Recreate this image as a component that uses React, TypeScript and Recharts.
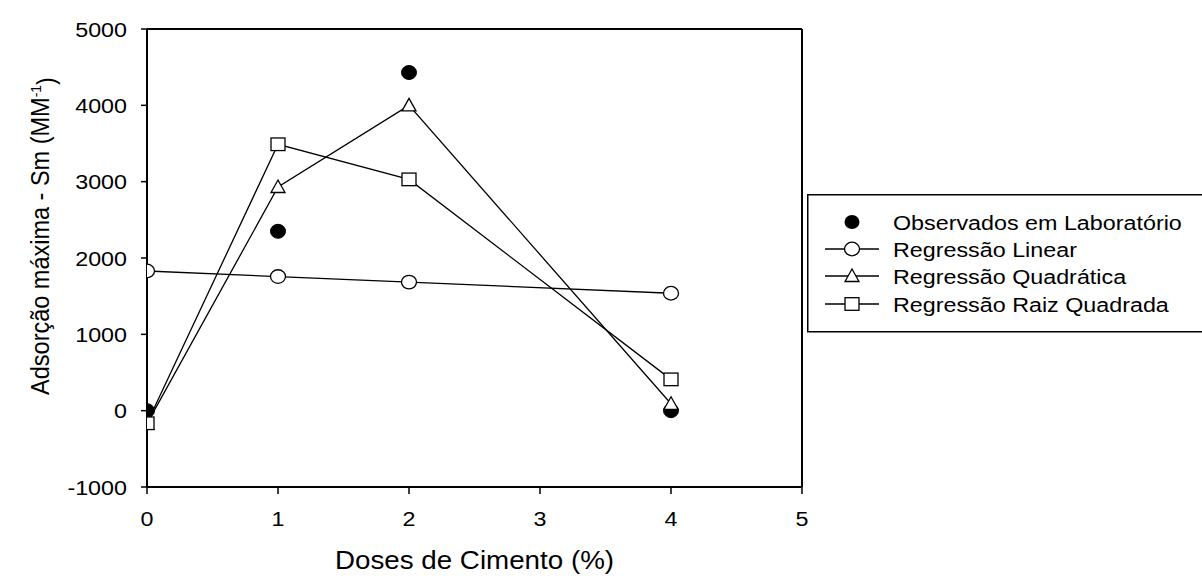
import React from 'react';
import { ComposedChart, Line, XAxis, YAxis, ReferenceLine, Label } from 'recharts';

const doses = [0, 1, 2, 4];
const observados = [0, 2350, 4430, 0];
const regLinear = [1830, 1757, 1684, 1538];
const regQuadratica = [-170, 2930, 4000, 90];
const regRaiz = [-165, 3490, 3030, 410];
const xTicks = [0, 1, 2, 3, 4, 5];
const yTicks = [-1000, 0, 1000, 2000, 3000, 4000, 5000];
const seriesNames = ['Observados em Laboratório', 'Regressão Linear', 'Regressão Quadrática', 'Regressão Raiz Quadrada'];

const data = doses.map((d, i) => ({
  x: d,
  obs: observados[i],
  lin: regLinear[i],
  quad: regQuadratica[i],
  raiz: regRaiz[i],
}));

const FONT = '"Liberation Sans", Arial, sans-serif';
const SW = 1.3;
const SX = 1.11;
const TICK_FS = 21;
const TITLE_FS = 25;
const YTITLE_FS = 23.5;

const FilledCircle = (p: any) => (
  <ellipse key={'f' + p.index} cx={p.cx} cy={p.cy} rx={7.5} ry={7} fill="#000" stroke="#000" strokeWidth={1} />
);
const OpenCircle = (p: any) => (
  <ellipse key={'o' + p.index} cx={p.cx} cy={p.cy} rx={7.5} ry={6.8} fill="#fff" stroke="#000" strokeWidth={SW} />
);
const Triangle = (p: any) => (
  <path key={'t' + p.index} d={`M${p.cx},${p.cy - 7} L${p.cx + 7},${p.cy + 5.5} L${p.cx - 7},${p.cy + 5.5} Z`} fill="#fff" stroke="#000" strokeWidth={SW} />
);
const Square = (p: any) => (
  <rect key={'s' + p.index} x={p.cx - 7} y={p.cy - 6.3} width={14} height={12.6} fill="#fff" stroke="#000" strokeWidth={SW} />
);

const XTick = (p: any) => (
  <text transform={`translate(${p.x} ${p.y}) scale(${SX} 1)`} textAnchor="middle" dy="0.71em" fontSize={TICK_FS} fontFamily={FONT} fill="#000">
    {p.payload.value}
  </text>
);
const YTick = (p: any) => (
  <text transform={`translate(${p.x} ${p.y}) scale(${SX} 1)`} textAnchor="end" dy="0.36em" fontSize={TICK_FS} fontFamily={FONT} fill="#000">
    {p.payload.value}
  </text>
);

const LegendBox = () => {
  const rows = [222, 249, 276, 304].map((y) => y - 194);
  const mx = 852 - 807;
  return (
    <svg width={400} height={140} style={{ position: 'absolute', left: 807, top: 194, overflow: 'visible' }}>
      <rect x={0.75} y={0.75} width={420} height={137} fill="#fff" stroke="#000" strokeWidth={1.5} />
      <ellipse cx={mx} cy={rows[0]} rx={7.5} ry={7} fill="#000" />
      {[1, 2, 3].map((i) => (
        <line key={'l' + i} x1={mx - 27} x2={mx + 27} y1={rows[i]} y2={rows[i]} stroke="#000" strokeWidth={SW} />
      ))}
      <ellipse cx={mx} cy={rows[1]} rx={7.5} ry={6.8} fill="#fff" stroke="#000" strokeWidth={SW} />
      <path d={`M${mx},${rows[2] - 7} L${mx + 7},${rows[2] + 5.5} L${mx - 7},${rows[2] + 5.5} Z`} fill="#fff" stroke="#000" strokeWidth={SW} />
      <rect x={mx - 7} y={rows[3] - 6.3} width={14} height={12.6} fill="#fff" stroke="#000" strokeWidth={SW} />
      {seriesNames.map((n, i) => (
        <text key={n} transform={`translate(${893 - 807} ${rows[i]}) scale(${SX} 1)`} dy="0.36em" fontSize={TICK_FS} fontFamily={FONT} fill="#000">{n}</text>
      ))}
    </svg>
  );
};

export default function App() {
  return (
    <div style={{ position: 'absolute', left: 0, top: 0, width: 1202, height: 576, background: '#fff', overflow: 'hidden' }}>
      <ComposedChart width={1202} height={576} data={data} margin={{ top: 29, right: 400, bottom: 0, left: 0 }}>
        <XAxis
          dataKey="x"
          type="number"
          domain={[0, 5]}
          ticks={xTicks}
          allowDataOverflow
          height={89}
          axisLine={{ stroke: '#000', strokeWidth: 2 }}
          tickLine={{ stroke: '#000', strokeWidth: 1.5 }}
          tickSize={7}
          tickMargin={17}
          tick={XTick}
        >
          <Label
            content={() => (
              <text transform={`translate(474.5 560) scale(${SX} 1)`} dy="0.36em" textAnchor="middle" fontSize={TITLE_FS} fontFamily={FONT} fill="#000">
                Doses de Cimento (%)
              </text>
            )}
          />
        </XAxis>
        <YAxis
          type="number"
          domain={[-1000, 5000]}
          ticks={yTicks}
          width={147}
          axisLine={{ stroke: '#000', strokeWidth: 2 }}
          tickLine={{ stroke: '#000', strokeWidth: 1.5 }}
          tickSize={6}
          tickMargin={14}
          tick={YTick}
        >
          <Label
            content={() => (
              <text
                transform={`translate(40 236) scale(${SX} 1) rotate(-90)`}
                dy="0.36em"
                textAnchor="middle"
                fontSize={YTITLE_FS}
                fontFamily={FONT}
                fill="#000"
              >
                Adsorção máxima - Sm (MM
                <tspan dy="-0.55em" fontSize={14}>-1</tspan>
                <tspan dy="0.55em">)</tspan>
              </text>
            )}
          />
        </YAxis>
        <ReferenceLine y={5000} stroke="#000" strokeWidth={2} />
        <ReferenceLine x={5} stroke="#000" strokeWidth={2} />
        <Line dataKey="obs" stroke="none" dot={FilledCircle} activeDot={false} isAnimationActive={false} legendType="none" />
        <Line dataKey="lin" type="linear" stroke="#000" strokeWidth={SW} dot={OpenCircle} activeDot={false} isAnimationActive={false} />
        <Line dataKey="quad" type="linear" stroke="#000" strokeWidth={SW} dot={Triangle} activeDot={false} isAnimationActive={false} />
        <Line dataKey="raiz" type="linear" stroke="#000" strokeWidth={SW} dot={Square} activeDot={false} isAnimationActive={false} />
      </ComposedChart>
      <LegendBox />
    </div>
  );
}
